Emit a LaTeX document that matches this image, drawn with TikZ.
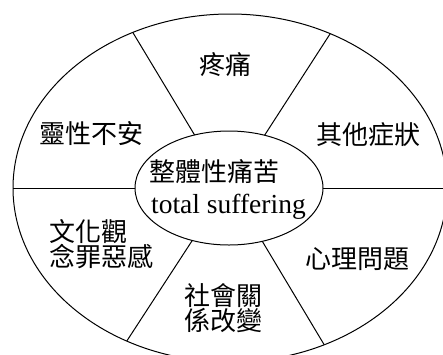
\documentclass[tikz,border=0pt]{standalone}
\usepackage{fontspec}
\setmainfont{Liberation Serif}
\newfontfamily\cjk{Noto Sans CJK TC}
\usetikzlibrary{shapes.geometric}
\tikzset{
  ring/.style={ellipse, draw, line width=1pt, outer sep=0pt, inner sep=0pt},
  spoke/.style={line width=1pt},
  lbl/.style={font=\cjk\fontsize{26}{25}\selectfont, inner sep=0pt, align=left},
  eng/.style={font=\fontsize{27.5}{28}\selectfont, inner sep=0pt}
}
\begin{document}
\begin{tikzpicture}[x=1pt,y=-1pt]
\useasboundingbox (0,0) rectangle (443,354);
\clip (0,0) rectangle (443,354);
\fill[white] (0,0) rectangle (443,354);
\node[ring, minimum width=434pt, minimum height=348pt] (outer) at (230,188) {};
\node[ring, minimum width=188pt, minimum height=114pt] (inner) at (229,188) {};
% horizontal dividers
\draw[spoke] (outer.west) -- (inner.west);
\draw[spoke] (inner.east) -- (outer.east);
% radial dividers
\draw[spoke] (outer.122) -- (inner.123);
\draw[spoke] (outer.57.4) -- (inner.56.3);
\draw[spoke] (outer.236) -- (inner.235.4);
\draw[spoke] (outer.301.9) -- (inner.302.3);
% labels
\node[lbl] (pain) at (225,65) {疼痛};
\node[lbl] (spirit) at (91,134) {靈性不安};
\node[lbl] (other) at (368,135) {其他症狀};
\node[lbl] (psych) at (357,259) {心理問題};
\node[lbl, anchor=north west] (culture) at (49,219) {文化觀\\念罪惡感};
\node[lbl, anchor=north west] (social) at (184,283) {社會關\\係改變};
\node[lbl, anchor=base west] (totalzh) at (149,181) {整體性痛苦};
\node[eng, anchor=base west] (totalen) at (151,213) {total suffering};
\end{tikzpicture}
\end{document}
